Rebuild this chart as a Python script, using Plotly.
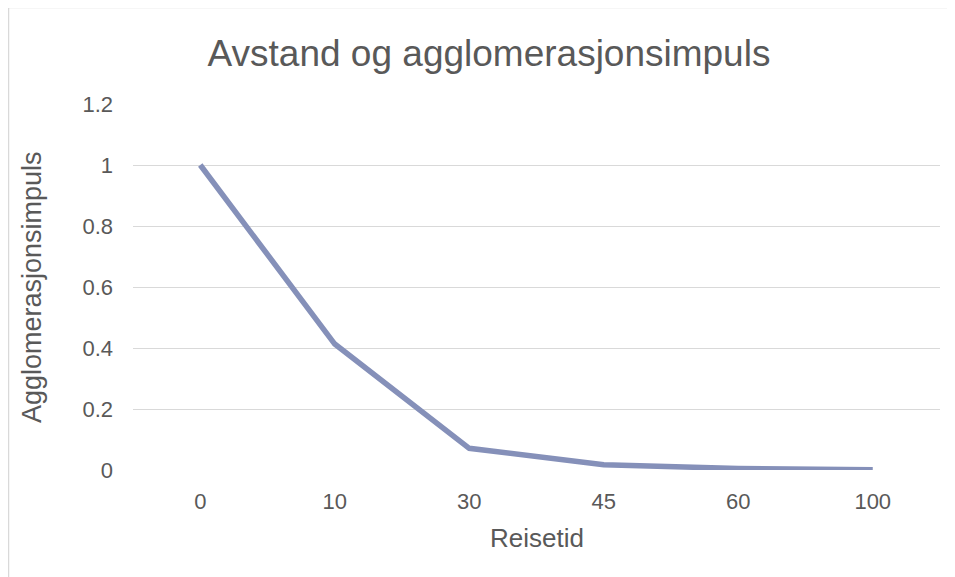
import plotly.graph_objects as go

categories = ["0", "10", "30", "45", "60", "100"]
values = [1.0, 0.413, 0.071, 0.017, 0.005, 0.001]

# page body has an 8px margin, so figure is offset by 8px
OFF = 8
W, H = 955 - OFF, 577 - OFF
ml, mr, mt, mb = 133 - OFF, 15, 104 - OFF, 107
pw = W - ml - mr
ph = H - mt - mb

fig = go.Figure()
fig.add_trace(go.Scatter(
    x=categories, y=values, mode="lines",
    line=dict(color="#8590B9", width=5.5),
    hoverinfo="x+y", showlegend=False,
))

font = "Liberation Sans, Arial, sans-serif"
grey = "#595959"

fig.update_layout(
    width=W, height=H,
    margin=dict(l=ml, r=mr, t=mt, b=mb),
    paper_bgcolor="white", plot_bgcolor="white",
    font=dict(family=font, color=grey, size=22),
    title=dict(text="Avstand og agglomerasjonsimpuls", x=(489 - OFF) / W, xanchor="center",
               y=1 - (53 - OFF) / H, yanchor="middle",
               font=dict(size=37, color=grey, family=font)),
    xaxis=dict(type="category", range=[-0.5, 5.5], showgrid=False, zeroline=False,
               showline=False, ticks="", tickfont=dict(size=22, color=grey),
               ticklabelstandoff=16),
    yaxis=dict(range=[0, 1.2], tickvals=[0, 0.2, 0.4, 0.6, 0.8, 1, 1.2],
               ticktext=["0", "0.2", "0.4", "0.6", "0.8", "1", "1.2"],
               showgrid=True, gridcolor="#d9d9d9", gridwidth=1, zeroline=False,
               showline=False, ticks="", tickfont=dict(size=22, color=grey),
               ticklabelstandoff=19),
    annotations=[
        dict(text="Reisetid", xref="paper", yref="paper", x=0.5,
             y=((H - mb) - (538 - OFF)) / ph, xanchor="center", yanchor="middle",
             showarrow=False, font=dict(size=26, color=grey, family=font)),
        dict(text="Agglomerasjonsimpuls", xref="paper", yref="paper",
             x=((32 - OFF) - ml) / pw, y=((H - mb) - (287 - OFF)) / ph,
             xanchor="center", yanchor="middle", textangle=-90,
             showarrow=False, font=dict(size=27, color=grey, family=font)),
    ],
)

# outer chart border (partially cut off at right/bottom in the reference)
x_left = (8.5 - OFF - ml) / pw
y_top = ((H - mb) - (7.5 - OFF)) / ph
fig.add_shape(type="rect", xref="paper", yref="paper",
              x0=x_left, x1=1.2, y0=-0.5, y1=y_top,
              line=dict(color="#d9d9d9", width=1.5), layer="below")

fig.write_html("out.html")
